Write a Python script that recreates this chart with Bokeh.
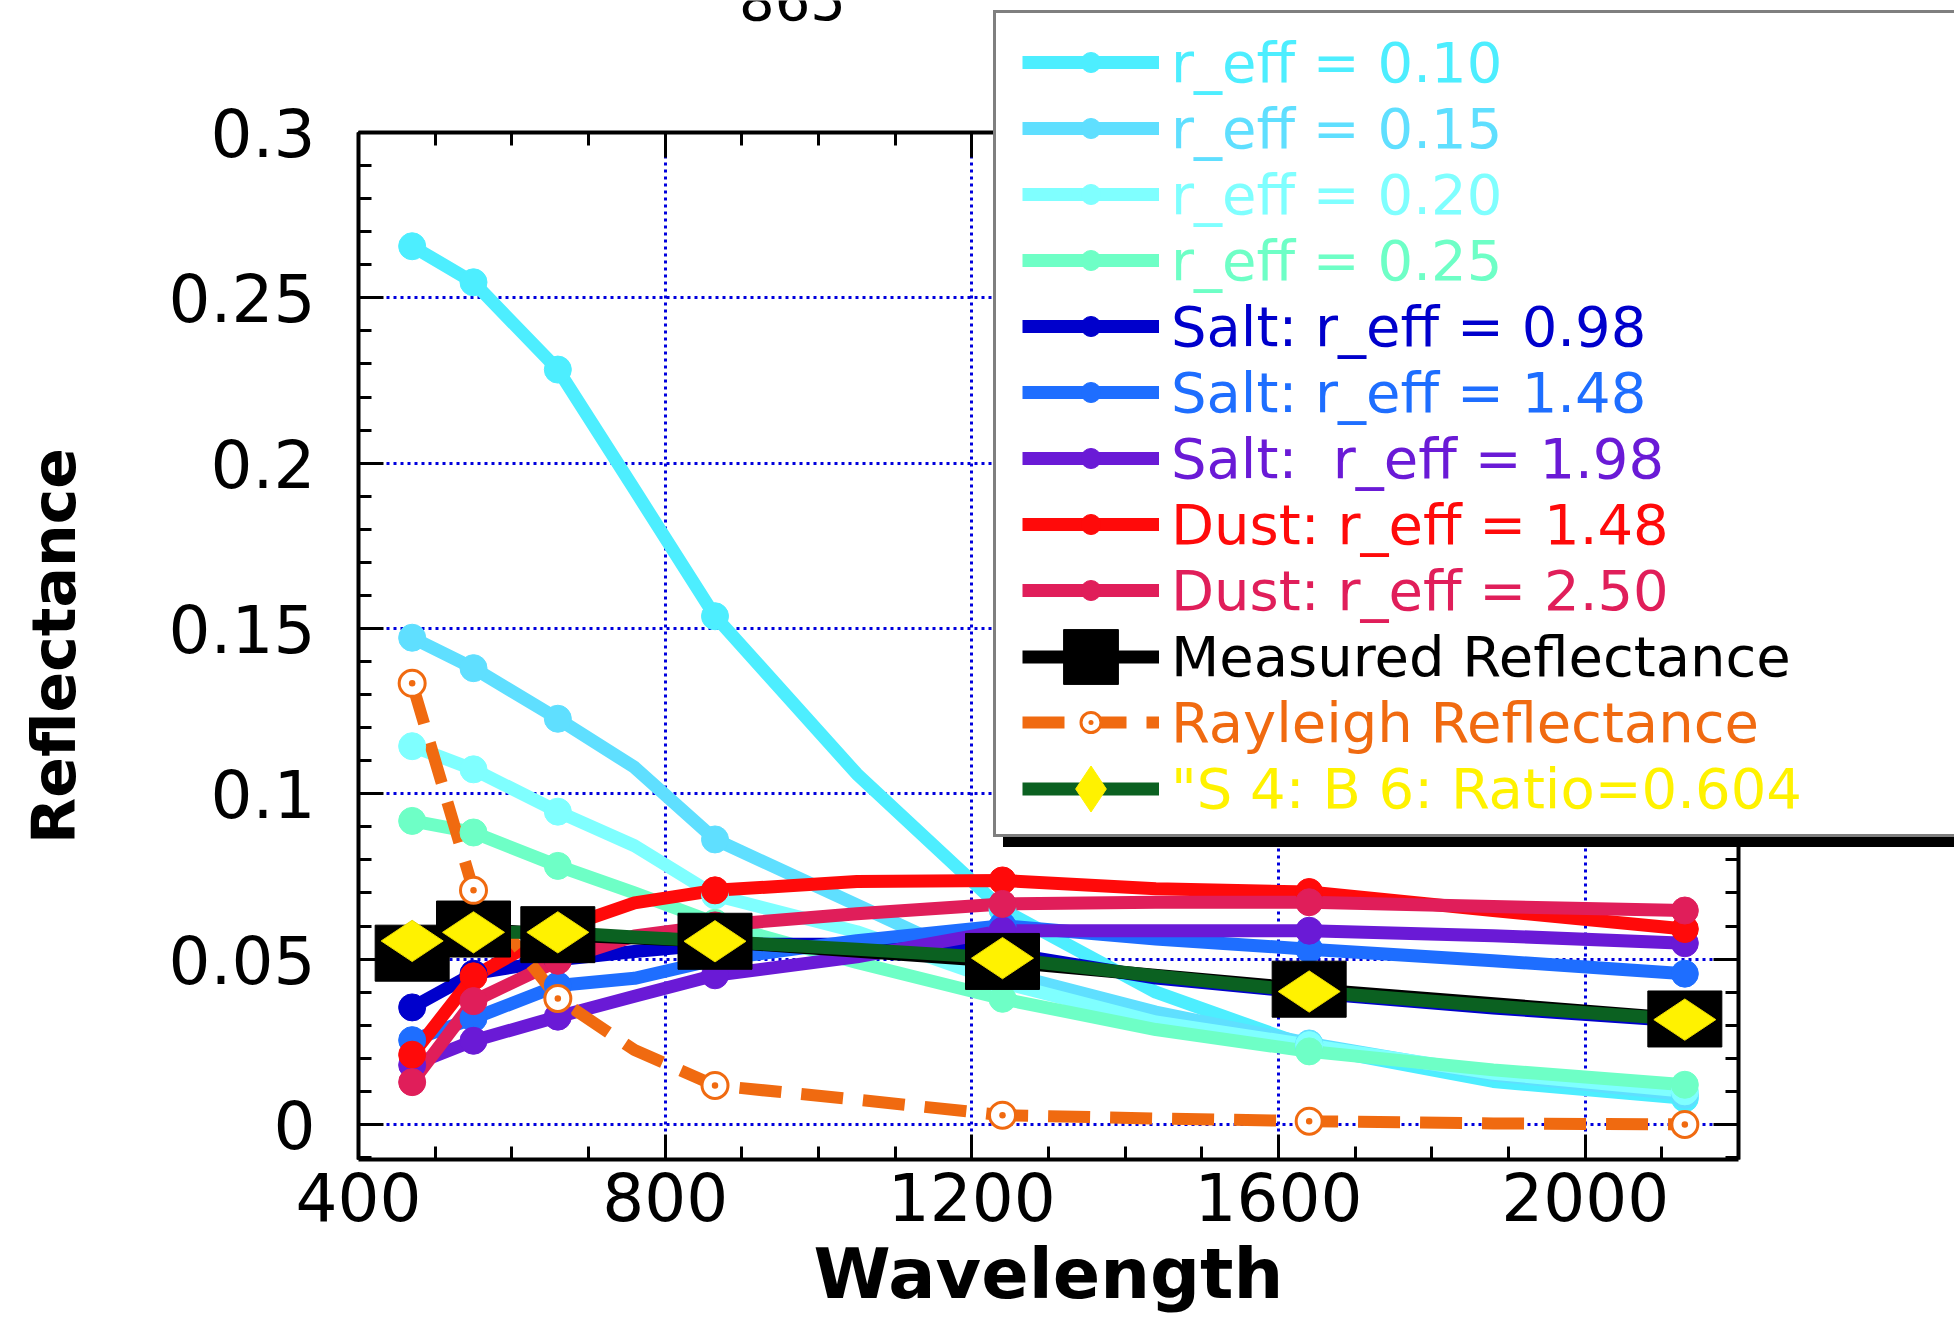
from bokeh.plotting import figure
from bokeh.models import (Range1d, LinearAxis, FixedTicker, Legend, LegendItem, Label,
                          BoxAnnotation)
from bokeh.embed import file_html
from bokeh.resources import INLINE
import numpy as np

# ---------------- data ----------------
wavelength = [470, 550, 660, 760, 865, 1050, 1240, 1440, 1640, 1880, 2130]
band_idx = [0, 1, 2, 4, 6, 8, 10]          # positions of the MODIS bands in `wavelength`
band_wavelength = [470, 550, 660, 865, 1240, 1640, 2130]

r_010 = [0.2656, 0.2547, 0.2283, 0.1920, 0.1537, 0.1060, 0.0650, 0.0400, 0.0235, 0.0130, 0.0079]
r_015 = [0.1472, 0.1380, 0.1227, 0.1080, 0.0862, 0.0664, 0.0460, 0.0340, 0.0245, 0.0150, 0.0090]
r_020 = [0.1144, 0.1074, 0.0946, 0.0843, 0.0693, 0.0583, 0.0429, 0.0310, 0.0240, 0.0155, 0.0100]
r_025 = [0.0918, 0.0883, 0.0782, 0.0700, 0.0610, 0.0490, 0.0380, 0.0287, 0.0221, 0.0165, 0.0120]
salt_098 = [0.0354, 0.0456, 0.0498, 0.0523, 0.0545, 0.0545, 0.0520, 0.0443, 0.0398, 0.0352, 0.0312]
salt_148 = [0.0255, 0.0321, 0.0420, 0.0442, 0.0498, 0.0556, 0.0601, 0.0561, 0.0530, 0.0495, 0.0456]
salt_198 = [0.0180, 0.0253, 0.0326, 0.0388, 0.0451, 0.0507, 0.0586, 0.0586, 0.0586, 0.0571, 0.0548]
dust_148 = [0.0211, 0.0448, 0.0590, 0.0670, 0.0708, 0.0735, 0.0738, 0.0713, 0.0703, 0.0647, 0.0591]
dust_250 = [0.0128, 0.0373, 0.0495, 0.0570, 0.0602, 0.0637, 0.0667, 0.0672, 0.0672, 0.0659, 0.0647]
rayleigh = [0.1334, 0.0708, 0.0381, 0.0225, 0.0118, 0.0075, 0.0028, 0.0018, 0.0010, 0.0003, 0.0000]
ratio_s4b6 = [0.0555, 0.0581, 0.0581, 0.0567, 0.0554, 0.0530, 0.0503, 0.0449, 0.0402, 0.0358, 0.0317]
measured = [0.0518, 0.0591, 0.0574, 0.0554, 0.0493, 0.0409, 0.0319]

x_start, x_end = 400, 2200
y_start, y_end = -0.0106, 0.3
x_ticks = [400, 800, 1200, 1600, 2000]
x_minor_ticks = [400, 500, 600, 700, 800, 900, 1000, 1100, 1200, 1300, 1400, 1500,
                 1600, 1700, 1800, 1900, 2000, 2100, 2200]
y_ticks = [0, 0.05, 0.1, 0.15, 0.2, 0.25, 0.3]
y_tick_labels = ["0", "0.05", "0.1", "0.15", "0.2", "0.25", "0.3"]
y_minor_ticks = [-0.01, 0, 0.01, 0.02, 0.03, 0.04, 0.05, 0.06, 0.07, 0.08, 0.09, 0.1,
                 0.11, 0.12, 0.13, 0.14, 0.15, 0.16, 0.17, 0.18, 0.19, 0.2, 0.21, 0.22,
                 0.23, 0.24, 0.25, 0.26, 0.27, 0.28, 0.29, 0.3]

title_text = "865"
x_label = "Wavelength"
y_label = "Reflectance"
labels = ["r_eff = 0.10", "r_eff = 0.15", "r_eff = 0.20", "r_eff = 0.25",
          "Salt: r_eff = 0.98", "Salt: r_eff = 1.48", "Salt:  r_eff = 1.98",
          "Dust: r_eff = 1.48", "Dust: r_eff = 2.50",
          "Measured Reflectance", "Rayleigh Reflectance", "\"S 4: B 6: Ratio=0.604"]
model_series = [r_010, r_015, r_020, r_025, salt_098, salt_148, salt_198, dust_148, dust_250]
model_colors = ["#4DEEFF", "#5FDFFF", "#7FFFFF", "#6EFFC6", "#0000CC", "#1E6EFF",
                "#6A1AD6", "#FF0A0A", "#E01E5A"]
c_meas = "#000000"
c_ray = "#F06A10"
c_s4_line = "#0B6121"
c_s4_mark = "#FFF200"

FONT = "DejaVu Sans"

# ---------------- layout (pixels) ----------------
W, H = 1954, 1317
box_l, box_r, box_t, box_b = 358, 1738, 132, 1159     # the axes box on the canvas
px_x = (box_r - box_l) / (x_end - x_start)
px_y = (box_b - box_t) / (y_end - y_start)
# the plotting frame covers the whole canvas; the axes are pinned to the box edges
frame_x0 = x_start - box_l / px_x
frame_x1 = x_start + (W - box_l) / px_x
frame_y0 = y_start - (H - box_b) / px_y
frame_y1 = y_start + box_b / px_y

p = figure(width=W, height=H, x_range=Range1d(frame_x0, frame_x1),
           y_range=Range1d(frame_y0, frame_y1),
           output_backend="svg", toolbar_location=None,
           min_border_left=0, min_border_right=0, min_border_top=0, min_border_bottom=0)
p.background_fill_color = "white"
p.border_fill_color = "white"
p.outline_line_color = None

bottom_ax = p.below[0]
left_ax = p.left[0]
bottom_ax.fixed_location = y_start
left_ax.fixed_location = x_start
top_ax = LinearAxis(fixed_location=y_end)
right_ax = LinearAxis(fixed_location=x_end)
p.add_layout(top_ax, "above")
p.add_layout(right_ax, "right")

for ax in [bottom_ax, top_ax]:
    ax.ticker = FixedTicker(ticks=x_ticks, minor_ticks=x_minor_ticks)
    ax.bounds = (x_start, x_end)
for ax in [left_ax, right_ax]:
    ax.ticker = FixedTicker(ticks=y_ticks, minor_ticks=y_minor_ticks)
    ax.bounds = (y_start, y_end)

for ax in [bottom_ax, left_ax, top_ax, right_ax]:
    ax.axis_line_color = "black"
    ax.axis_line_width = 4
    ax.major_tick_line_color = "black"
    ax.major_tick_line_width = 3
    ax.minor_tick_line_color = "black"
    ax.minor_tick_line_width = 3
    ax.major_tick_in = 25
    ax.major_tick_out = 0
    ax.minor_tick_in = 13
    ax.minor_tick_out = 0
    ax.major_label_text_font = FONT
    ax.major_label_text_font_size = "66px"
    ax.major_label_text_color = "black"

left_ax.major_label_overrides = {t: s for t, s in zip(y_ticks, y_tick_labels)}
left_ax.major_label_standoff = 43
bottom_ax.major_label_standoff = 12

top_ax.major_label_overrides = {t: "" for t in x_ticks}
right_ax.major_label_overrides = {t: "" for t in y_ticks}
for ax in [top_ax, right_ax]:
    ax.major_label_standoff = 0
    ax.major_label_text_font_size = "10px"

xg, yg = p.xgrid[0], p.ygrid[0]
xg.ticker = FixedTicker(ticks=x_ticks[1:])
yg.ticker = FixedTicker(ticks=y_ticks[:-1])
for g in [xg, yg]:
    g.grid_line_color = "#0000DD"
    g.grid_line_width = 3
    g.grid_line_dash = "3 4"

# keep grid lines inside the axes box
if "cross_bounds" in xg.properties():
    xg.cross_bounds = (y_start, y_end)
    yg.cross_bounds = (x_start, x_end)
pad_x, pad_y = 200, 0.05
for kw in [dict(bottom=y_end, top=frame_y1 + pad_y),
           dict(top=y_start, bottom=frame_y0 - pad_y),
           dict(left=x_end, right=frame_x1 + pad_x),
           dict(right=x_start, left=frame_x0 - pad_x)]:
    p.add_layout(BoxAnnotation(fill_color="white", fill_alpha=1.0, line_alpha=0,
                               level="underlay", **kw))

# ---------------- lines ----------------
LW = 13
model_lines = []
for vals, col in zip(model_series, model_colors):
    model_lines.append(p.line(wavelength, vals, line_color=col, line_width=LW,
                              line_join="round"))
meas_line = p.line(band_wavelength, measured, line_color=c_meas, line_width=LW)
ray_line = p.line(wavelength, rayleigh, line_color=c_ray, line_width=12, line_dash="42 20")
s4_line = p.line(wavelength, ratio_s4b6, line_color=c_s4_line, line_width=LW,
                 line_join="round")

# ---------------- markers ----------------
model_marks = []
for vals, col in zip(model_series, model_colors):
    model_marks.append(p.scatter(band_wavelength, [vals[i] for i in band_idx],
                                 marker="circle", size=27, fill_color=col, line_color=col))
meas_mark = p.rect(band_wavelength, measured, width=74, height=56, width_units="screen",
                   height_units="screen", fill_color=c_meas, line_color=c_meas)
ray_mark = p.scatter(band_wavelength, [rayleigh[i] for i in band_idx], marker="circle_dot",
                     size=26, fill_color="white", line_color=c_ray, line_width=3)
s4_mark = p.scatter(band_wavelength, [ratio_s4b6[i] for i in band_idx], marker="diamond",
                    angle=np.pi / 2, size=62, fill_color=c_s4_mark, line_color="#E8D800",
                    line_width=1)

# legend-only glyphs (hidden in the plot, drawn only in the legend)
legend_frame_glyph = p.line(wavelength, r_010, line_alpha=0, visible=False)
legend_square = p.scatter(band_wavelength, measured, marker="square", fill_color=c_meas,
                          line_color=c_meas, visible=False)
legend_diamond = p.scatter(band_wavelength, [ratio_s4b6[i] for i in band_idx],
                           marker="diamond", fill_color=c_s4_mark, line_color=c_s4_mark,
                           visible=False)

# ---------------- legend ----------------
leg_l, leg_t, leg_r, leg_b = 993, 12, 1952, 833
leg_w = leg_r - leg_l
leg_h = leg_b - leg_t
leg_shift = 4

def frame_legend(dx, dy, fill, border):
    return Legend(items=[LegendItem(label=" ", renderers=[legend_frame_glyph])],
                  location=(leg_l + dx, H - leg_b - dy - leg_shift),
                  padding=0, margin=0, spacing=0, glyph_width=20, glyph_height=leg_h,
                  label_height=leg_h, label_width=leg_w - 20, label_standoff=0,
                  border_line_color=border, border_line_width=3,
                  background_fill_color=fill, background_fill_alpha=1.0,
                  label_text_font_size="10px")

p.add_layout(frame_legend(10, 10, "black", None), "center")
p.add_layout(frame_legend(0, 0, "white", "black"), "center")

row_first, row_step = 62, 66
glyph_left = 1022
entries = []
for i in range(9):
    entries.append((labels[i], [model_lines[i], model_marks[i]], model_colors[i], 50))
entries.append((labels[9], [meas_line, legend_square], c_meas, 137))
entries.append((labels[10], [ray_line, ray_mark], c_ray, 50))
entries.append((labels[11], [s4_line, legend_diamond], c_s4_mark, 115))

for i, (lab, rends, col, gh) in enumerate(entries):
    cy = row_first + i * row_step
    row_h = max(gh, 66)
    leg = Legend(items=[LegendItem(label=lab, renderers=rends)],
                 location=(glyph_left, H - (cy + row_h / 2)),
                 padding=0, margin=0, spacing=0, glyph_width=137, glyph_height=gh,
                 label_height=row_h, label_standoff=12, border_line_color=None,
                 background_fill_alpha=0.0, label_text_font=FONT,
                 label_text_font_size="56px", label_text_color=col,
                 label_text_baseline="middle")
    p.add_layout(leg, "center")

# ---------------- texts ----------------
# axis titles, centred on the axes box
p.add_layout(Label(x=(box_l + box_r) / 2, y=H - 1273, x_units="screen", y_units="screen",
                   text=x_label, text_font=FONT, text_font_size="70px",
                   text_font_style="bold", text_align="center", text_baseline="middle",
                   text_color="black"))
p.add_layout(Label(x=53, y=H - (box_t + box_b) / 2, x_units="screen", y_units="screen",
                   text=y_label, angle=np.pi / 2, text_font=FONT, text_font_size="60px",
                   text_font_style="bold", text_align="center", text_baseline="middle",
                   text_color="black"))
# partially visible title above the chart (cut by the top edge, as in the original)
p.add_layout(Label(x=792, y=H + 1, x_units="screen", y_units="screen",
                   text=title_text, text_font=FONT, text_font_size="56px",
                   text_align="center", text_baseline="middle", text_color="black"))

open("out.html", "w").write(file_html(p, INLINE))
